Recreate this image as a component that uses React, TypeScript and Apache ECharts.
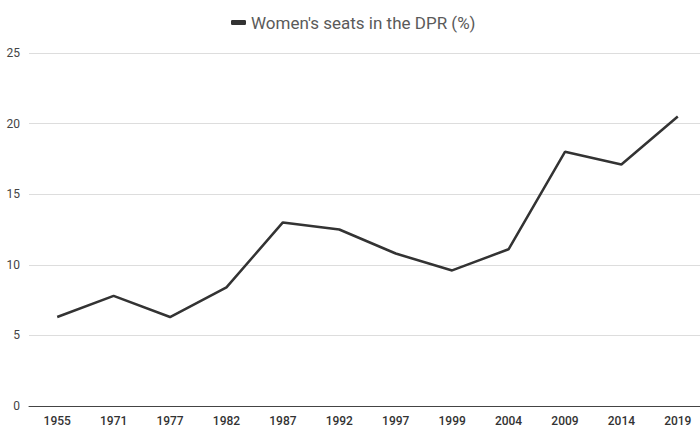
import React, { useEffect, useRef } from "react";
import * as echarts from "echarts";

const years = ["1955", "1971", "1977", "1982", "1987", "1992", "1997", "1999", "2004", "2009", "2014", "2019"];
const seats = [6.3, 7.8, 6.3, 8.4, 13.0, 12.5, 10.8, 9.6, 11.1, 18.0, 17.1, 20.5];
const seriesName = "Women's seats in the DPR (%)";

export default function App() {
  const ref = useRef<HTMLDivElement>(null);
  useEffect(() => {
    if (!ref.current) return;
    const chart = echarts.init(ref.current, null, { renderer: "svg" });
    chart.setOption({
      animation: false,
      backgroundColor: "#fff",
      textStyle: { fontFamily: "Roboto" },
      legend: {
        top: 9,
        left: 226,
        icon: "roundRect",
        itemWidth: 15,
        itemHeight: 5,
        itemGap: 11,
        textStyle: { fontSize: 17, color: "#5a5a5a", fontFamily: "Roboto" },
        data: [seriesName],
      },
      grid: { left: 29, right: 0, top: 53, bottom: 21, containLabel: false },
      xAxis: {
        type: "category",
        data: years,
        boundaryGap: true,
        axisLine: { show: true, lineStyle: { color: "#444", width: 1 } },
        axisTick: { show: false },
        axisLabel: { color: "#333", fontSize: 12, margin: 9, interval: 0, fontWeight: 500 },
      },
      yAxis: {
        type: "value",
        min: 0,
        max: 25,
        interval: 5,
        axisLine: { show: false },
        axisTick: { show: false },
        axisLabel: { color: "#444", fontSize: 12, margin: 9 },
        splitLine: { lineStyle: { color: "#ddd", width: 1 } },
      },
      series: [
        {
          name: seriesName,
          type: "line",
          data: seats,
          symbol: "none",
          lineStyle: { color: "#333", width: 2.5 },
          itemStyle: { color: "#333" },
        },
      ],
    });
    return () => chart.dispose();
  }, []);
  return (
    <div style={{ width: 700, height: 427, position: "absolute", left: 0, top: 0, overflow: "hidden" }}>
      <div ref={ref} style={{ width: 706, height: 427 }} />
    </div>
  );
}
